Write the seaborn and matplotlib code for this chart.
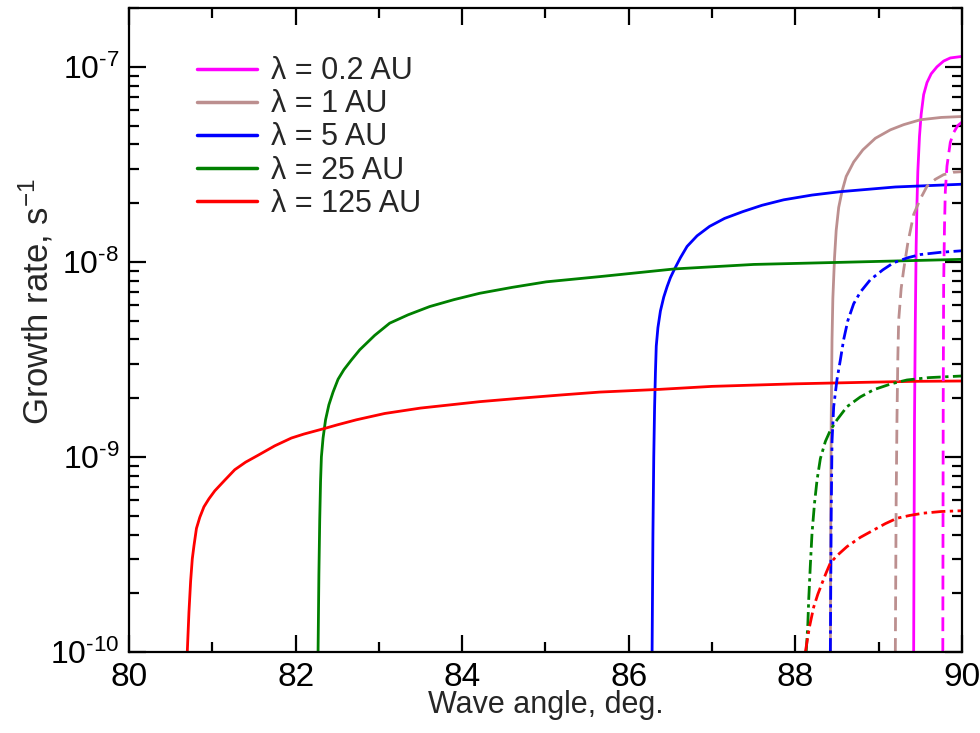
import numpy as np
import pandas as pd
import matplotlib
matplotlib.use("Agg")
import matplotlib.pyplot as plt
from matplotlib.ticker import LogLocator, MultipleLocator, FuncFormatter, NullFormatter
import seaborn as sns

# ---- growth rate vs wave angle, solid curves (one per wavelength) ----
ang_02 = [89.42, 89.43, 89.44, 89.45, 89.46, 89.47, 89.49, 89.51, 89.54, 89.58, 89.63, 89.70, 89.78, 89.86, 90.0]
rate_02 = [1e-10, 1.5e-9, 5e-9, 1.2e-8, 2.0e-8, 2.9e-8, 4.4e-8, 5.7e-8, 7.2e-8, 8.3e-8, 9.2e-8, 1.0e-7, 1.07e-7, 1.11e-7, 1.13e-7]

ang_1 = [88.42, 88.425, 88.43, 88.44, 88.45, 88.47, 88.49, 88.52, 88.56, 88.61, 88.70, 88.81, 88.96, 89.14, 89.30, 89.50, 89.75, 90.0]
rate_1 = [1e-10, 5e-10, 1.5e-9, 4e-9, 6.5e-9, 1.05e-8, 1.45e-8, 1.9e-8, 2.3e-8, 2.74e-8, 3.25e-8, 3.75e-8, 4.3e-8, 4.75e-8, 5.05e-8, 5.35e-8, 5.5e-8, 5.56e-8]

ang_5 = [86.28, 86.29, 86.30, 86.31, 86.32, 86.33, 86.35, 86.38, 86.42, 86.46, 86.50, 86.55, 86.62, 86.70,
         86.82, 86.97, 87.15, 87.37, 87.60, 87.86, 88.20, 88.54, 89.20, 90.0]
rate_5 = [1e-10, 4e-10, 1e-9, 1.8e-9, 2.7e-9, 3.7e-9, 4.6e-9, 5.6e-9, 6.6e-9, 7.46e-9, 8.3e-9, 9.2e-9, 1.05e-8, 1.2e-8,
          1.36e-8, 1.52e-8, 1.67e-8, 1.81e-8, 1.95e-8, 2.08e-8, 2.2e-8, 2.29e-8, 2.42e-8, 2.5e-8]

ang_25 = [82.27, 82.28, 82.29, 82.30, 82.31, 82.33, 82.36, 82.40, 82.45, 82.51, 82.58, 82.67, 82.77, 82.95,
          83.13, 83.35, 83.61, 83.90, 84.21, 84.60, 85.01, 85.65, 86.55, 87.50, 88.78, 90.0]
rate_25 = [1e-10, 2.5e-10, 4.75e-10, 7.5e-10, 1.0e-9, 1.25e-9, 1.55e-9, 1.85e-9, 2.15e-9, 2.5e-9, 2.8e-9, 3.14e-9, 3.54e-9, 4.2e-9,
           4.85e-9, 5.35e-9, 5.9e-9, 6.4e-9, 6.9e-9, 7.4e-9, 7.9e-9, 8.4e-9, 9.2e-9, 9.7e-9, 1.0e-8, 1.03e-8]

ang_125 = [80.70, 80.72, 80.74, 80.76, 80.78, 80.81, 80.85, 80.90, 80.96, 81.03, 81.15, 81.27, 81.40, 81.55, 81.75,
           81.95, 82.10, 82.35, 82.50, 82.73, 83.07, 83.50, 84.21, 84.70, 85.20, 85.65, 86.37, 87.00, 88.00, 88.78, 89.40, 90.0]
rate_125 = [1e-10, 1.6e-10, 2.3e-10, 3.0e-10, 3.5e-10, 4.3e-10, 4.9e-10, 5.55e-10, 6.1e-10, 6.7e-10, 7.6e-10, 8.6e-10, 9.4e-10, 1.02e-9, 1.14e-9,
            1.25e-9, 1.31e-9, 1.40e-9, 1.46e-9, 1.55e-9, 1.67e-9, 1.78e-9, 1.92e-9, 2.0e-9, 2.08e-9, 2.15e-9, 2.22e-9, 2.3e-9, 2.37e-9, 2.41e-9, 2.44e-9, 2.45e-9]

# ---- dashed curves ----
ang_02_d = [89.77, 89.775, 89.78, 89.79, 89.80, 89.82, 89.86, 89.90, 89.95, 90.0]
rate_02_d = [1e-10, 2e-9, 7.5e-9, 1.5e-8, 2.3e-8, 3.1e-8, 4.1e-8, 4.6e-8, 5.0e-8, 5.2e-8]

ang_1_d = [89.20, 89.21, 89.22, 89.23, 89.24, 89.27, 89.30, 89.35, 89.42, 89.50, 89.58, 89.68, 89.78, 89.90, 90.0]
rate_1_d = [1e-10, 6e-10, 1.6e-9, 3.2e-9, 5.0e-9, 7.3e-9, 9.1e-9, 1.25e-8, 1.75e-8, 2.1e-8, 2.44e-8, 2.65e-8, 2.8e-8, 2.88e-8, 2.9e-8]

ang_5_d = [88.42, 88.43, 88.44, 88.46, 88.50, 88.54, 88.58, 88.63, 88.70, 88.78, 88.90, 89.05, 89.18, 89.35, 89.50, 89.75, 90.0]
rate_5_d = [1e-10, 5e-10, 1.2e-9, 1.81e-9, 2.5e-9, 3.14e-9, 4.0e-9, 5.0e-9, 6.1e-9, 7.0e-9, 8.1e-9, 9.1e-9, 9.9e-9, 1.05e-8, 1.09e-8, 1.12e-8, 1.14e-8]

ang_25_d = [88.13, 88.15, 88.16, 88.18, 88.20, 88.23, 88.26, 88.30, 88.36, 88.42, 88.50, 88.62, 88.78, 88.94, 89.15, 89.34, 89.60, 90.0]
rate_25_d = [1e-10, 1.4e-10, 1.85e-10, 2.8e-10, 4.07e-10, 5.8e-10, 7.6e-10, 9.8e-10, 1.2e-9, 1.37e-9, 1.55e-9, 1.81e-9, 2.03e-9, 2.21e-9, 2.37e-9, 2.48e-9, 2.55e-9, 2.6e-9]

ang_125_d = [88.12, 88.17, 88.22, 88.27, 88.32, 88.37, 88.42, 88.50, 88.62, 88.78, 88.94, 89.08, 89.22, 89.38, 89.54, 89.75, 90.0]
rate_125_d = [1e-10, 1.35e-10, 1.7e-10, 1.98e-10, 2.25e-10, 2.55e-10, 2.86e-10, 3.12e-10, 3.47e-10, 3.87e-10, 4.22e-10, 4.55e-10, 4.85e-10, 5.02e-10, 5.15e-10, 5.25e-10, 5.3e-10]

labels = ["λ = 0.2 AU", "λ = 1 AU", "λ = 5 AU", "λ = 25 AU", "λ = 125 AU"]
colors = ["#ff00ff", "#bc8f8f", "#0000ff", "#008000", "#ff0000"]

solid = [(ang_02, rate_02), (ang_1, rate_1), (ang_5, rate_5), (ang_25, rate_25), (ang_125, rate_125)]
dashed = [(ang_02_d, rate_02_d), (ang_1_d, rate_1_d), (ang_5_d, rate_5_d), (ang_25_d, rate_25_d), (ang_125_d, rate_125_d)]
dash_styles = [(5, 2.5), (5, 2.5), (5, 1.6, 1.2, 1.6), (5, 1.6, 1.2, 1.6), (5, 1.6, 1.2, 1.6)]

sns.set_theme(style="ticks")
plt.rcParams["font.family"] = ["Liberation Sans", "DejaVu Sans"]
plt.rcParams["mathtext.fontset"] = "custom"
plt.rcParams["mathtext.rm"] = "Liberation Sans"
plt.rcParams["mathtext.it"] = "Liberation Sans:italic"
plt.rcParams["mathtext.bf"] = "Liberation Sans:bold"

fig = plt.figure(figsize=(9.8, 7.33), dpi=100)
ax = fig.add_axes([0.1316, 0.1105, 0.85, 0.8785])

lw = 2.0
for (x, y), c, lab in zip(solid, colors, labels):
    df = pd.DataFrame({"angle": x, "rate": y})
    sns.lineplot(data=df, x="angle", y="rate", ax=ax, color=c, lw=lw,
                 estimator=None, sort=False, label=lab)
for (x, y), c, ds in zip(dashed, colors, dash_styles):
    df = pd.DataFrame({"angle": x, "rate": y})
    line = sns.lineplot(data=df, x="angle", y="rate", ax=ax, color=c, lw=lw,
                        estimator=None, sort=False, legend=False).lines[-1]
    line.set_dashes(ds)

ax.set_yscale("log")
ax.set_xlim(80, 90)
ax.set_ylim(1e-10, 2e-7)


def decade_label(v, pos):
    # power-of-ten label with a short hyphen in the exponent
    e = int(round(np.log10(v)))
    return "10$^{\u2010%d}$" % abs(e) if e < 0 else "10$^{%d}$" % e


ax.xaxis.set_major_locator(MultipleLocator(2))
ax.xaxis.set_minor_locator(MultipleLocator(1))
ax.yaxis.set_major_locator(LogLocator(base=10, numticks=10))
ax.yaxis.set_minor_locator(LogLocator(base=10, subs=np.arange(2, 10), numticks=20))
ax.yaxis.set_major_formatter(FuncFormatter(decade_label))
ax.yaxis.set_minor_formatter(NullFormatter())

ax.tick_params(which="both", direction="in", top=True, right=True, width=1.6, colors="black")
ax.tick_params(which="major", length=12, pad=7)
ax.tick_params(axis="x", which="major", labelsize=24)
ax.tick_params(axis="y", which="major", labelsize=23)
ax.tick_params(which="minor", length=7)
for s in ax.spines.values():
    s.set_linewidth(1.6)
    s.set_color("black")

ax.set_xlabel("Wave angle, deg.", fontsize=22, labelpad=-2)
ax.set_ylabel("Growth rate, s$^{-1}$", fontsize=25)
ax.yaxis.set_label_coords(-0.088, 0.545)

leg = ax.legend(loc="upper left", bbox_to_anchor=(0.082, 0.925), frameon=False,
                fontsize=22, handlelength=1.95, handletextpad=0.45, labelspacing=0.1,
                borderpad=0, borderaxespad=0)
for h in leg.get_lines():
    h.set_linewidth(2.5)

fig.savefig("out.png", dpi=100)
